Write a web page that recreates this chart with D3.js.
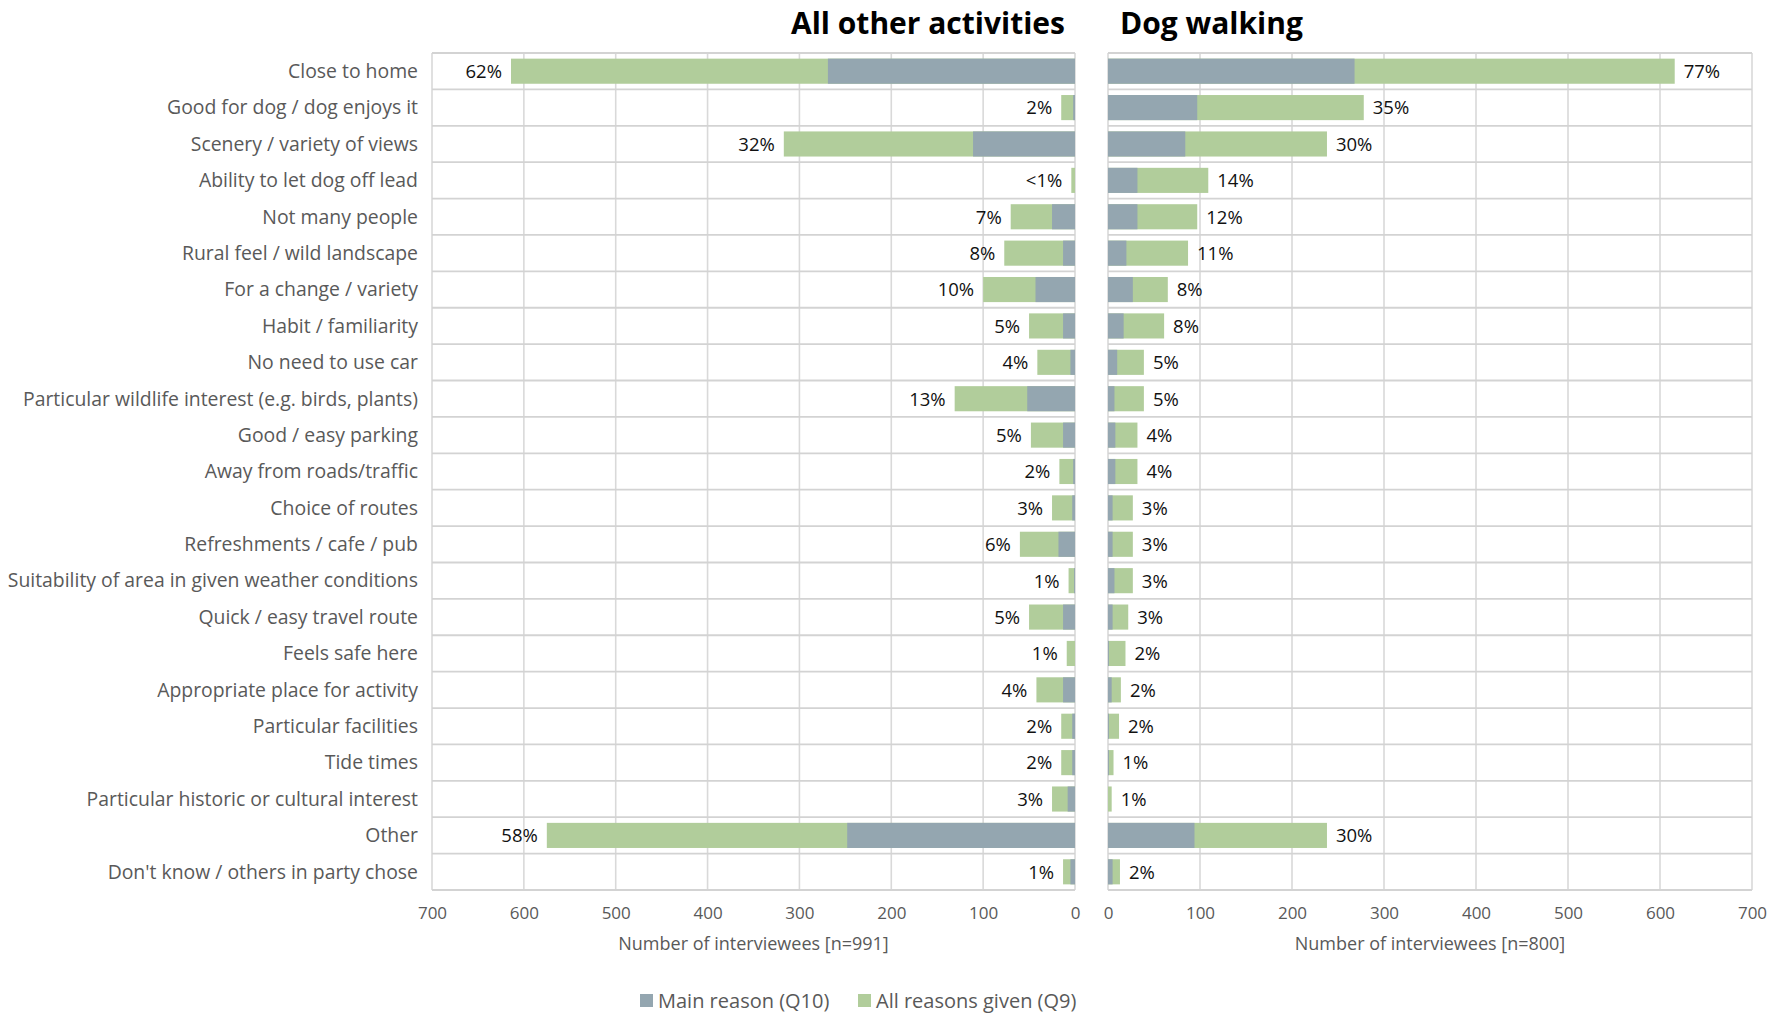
<!DOCTYPE html>
<html>
<head>
<meta charset="utf-8">
<script src="https://cdn.jsdelivr.net/npm/d3@7"></script>
<style>
  html, body { margin: 0; padding: 0; background: #fff; }
  svg { display: block; }
  text { font-family: "Open Sans", "Noto Sans", sans-serif; }
</style>
</head>
<body>
<svg id="chart" width="1777" height="1014"></svg>
<script>
const categories = [
  "Close to home",
  "Good for dog / dog enjoys it",
  "Scenery / variety of views",
  "Ability to let dog off lead",
  "Not many people",
  "Rural feel / wild landscape",
  "For a change / variety",
  "Habit / familiarity",
  "No need to use car",
  "Particular wildlife interest (e.g. birds, plants)",
  "Good / easy parking",
  "Away from roads/traffic",
  "Choice of routes",
  "Refreshments / cafe / pub",
  "Suitability of area in given weather conditions",
  "Quick / easy travel route",
  "Feels safe here",
  "Appropriate place for activity",
  "Particular facilities",
  "Tide times",
  "Particular historic or cultural interest",
  "Other",
  "Don't know / others in party chose"
];

// All other activities (n=991)
const otherMain = [269, 2, 111, 0, 25, 13, 43, 13, 5, 52, 13, 2, 3, 18, 1, 13, 0, 13, 3, 3, 8, 248, 5];
const otherAll  = [614, 15, 317, 4, 70, 77, 100, 50, 41, 131, 48, 17, 25, 60, 7, 50, 9, 42, 15, 15, 25, 575, 13];
const otherPct  = ["62%","2%","32%","<1%","7%","8%","10%","5%","4%","13%","5%","2%","3%","6%","1%","5%","1%","4%","2%","2%","3%","58%","1%"];

// Dog walking (n=800)
const dogMain = [268, 97, 84, 32, 32, 20, 27, 17, 10, 7, 8, 8, 5, 5, 7, 5, 1, 4, 1, 1, 0, 94, 5];
const dogAll  = [616, 278, 238, 109, 97, 87, 65, 61, 39, 39, 32, 32, 27, 27, 27, 22, 19, 14, 12, 6, 4, 238, 13];
const dogPct  = ["77%","35%","30%","14%","12%","11%","8%","8%","5%","5%","4%","4%","3%","3%","3%","3%","2%","2%","2%","1%","1%","30%","2%"];

const xTicks = [0, 100, 200, 300, 400, 500, 600, 700];
const panelTitles = ["All other activities", "Dog walking"];
const axisTitles = ["Number of interviewees [n=991]", "Number of interviewees [n=800]"];
const seriesNames = ["Main reason (Q10)", "All reasons given (Q9)"];

const colMain = "#94a6b0";
const colAll = "#b1cd9b";
const gridCol = "#d9d9d9";
const textCol = "#595959";

const svg = d3.select("#chart");
const plotTop = 53, plotBottom = 890;

const y = d3.scaleBand().domain(categories).range([plotTop, plotBottom]).paddingInner(0.31).paddingOuter(0.155);

const xL = d3.scaleLinear().domain([0, 700]).range([1075, 432]);
const xR = d3.scaleLinear().domain([0, 700]).range([1108, 1752]);

function panel(x, main, all, pct, side) {
  const g = svg.append("g");
  const [r0, r1] = x.range();
  const xmin = Math.min(r0, r1), xmax = Math.max(r0, r1);
  g.selectAll("line.v").data(xTicks).join("line")
    .attr("x1", d => x(d)).attr("x2", d => x(d))
    .attr("y1", plotTop).attr("y2", plotBottom)
    .attr("stroke", gridCol).attr("stroke-width", 1.6);
  const step = y.step();
  const rows = d3.range(categories.length + 1);
  g.selectAll("line.h").data(rows).join("line")
    .attr("x1", xmin).attr("x2", xmax)
    .attr("y1", d => plotTop + d * step).attr("y2", d => plotTop + d * step)
    .attr("stroke", "#d3d3d3").attr("stroke-width", 1.8);
  g.selectAll("rect.all").data(categories).join("rect")
    .attr("x", (c, i) => Math.min(x(0), x(all[i])))
    .attr("width", (c, i) => Math.abs(x(all[i]) - x(0)))
    .attr("y", c => y(c)).attr("height", y.bandwidth())
    .attr("fill", colAll);
  g.selectAll("rect.main").data(categories).join("rect")
    .attr("x", (c, i) => Math.min(x(0), x(main[i])))
    .attr("width", (c, i) => Math.abs(x(main[i]) - x(0)))
    .attr("y", c => y(c)).attr("height", y.bandwidth())
    .attr("fill", colMain);
  g.selectAll("text.lbl").data(categories).join("text")
    .attr("x", (c, i) => x(all[i]) + (side === "left" ? -9 : 9))
    .attr("y", c => y(c) + y.bandwidth() / 2)
    .attr("dy", "0.37em")
    .attr("text-anchor", side === "left" ? "end" : "start")
    .attr("font-size", 18.5).attr("fill", "#111")
    .text((c, i) => pct[i]);
  const axis = d3.axisBottom(x).tickValues(xTicks).tickSize(0).tickPadding(0);
  const ag = g.append("g").attr("transform", `translate(0, ${plotBottom})`).call(axis);
  ag.select(".domain").remove();
  ag.selectAll("text").attr("y", 23).attr("dy", "0.35em").attr("font-size", 17).attr("fill", textCol)
    .style("font-family", '"Open Sans", sans-serif');
}

panel(xL, otherMain, otherAll, otherPct, "left");
panel(xR, dogMain, dogAll, dogPct, "right");

svg.append("g").selectAll("text").data(categories).join("text")
  .attr("x", 418).attr("y", c => y(c) + y.bandwidth() / 2).attr("dy", "0.35em")
  .attr("text-anchor", "end").attr("font-size", 19.4).attr("fill", textCol)
  .text(c => c);

svg.append("text").attr("x", 1065).attr("y", 34).attr("text-anchor", "end")
  .attr("font-size", 30).attr("font-weight", 700).attr("fill", "#000").text(panelTitles[0]);
svg.append("text").attr("x", 1120).attr("y", 34).attr("text-anchor", "start")
  .attr("font-size", 30).attr("font-weight", 700).attr("fill", "#000").text(panelTitles[1]);

svg.append("text").attr("x", (xL(0) + xL(700)) / 2).attr("y", 944).attr("dy", "0.35em")
  .attr("text-anchor", "middle").attr("font-size", 18).attr("fill", textCol).text(axisTitles[0]);
svg.append("text").attr("x", (xR(0) + xR(700)) / 2).attr("y", 944).attr("dy", "0.35em")
  .attr("text-anchor", "middle").attr("font-size", 18).attr("fill", textCol).text(axisTitles[1]);

const legend = svg.append("g");
const legItems = [
  { name: seriesNames[0], color: colMain, x: 640 },
  { name: seriesNames[1], color: colAll, x: 858 }
];
legItems.forEach(it => {
  legend.append("rect").attr("x", it.x).attr("y", 994).attr("width", 13).attr("height", 13).attr("fill", it.color);
  legend.append("text").attr("x", it.x + 18).attr("y", 1001).attr("dy", "0.35em")
    .attr("font-size", 20).attr("fill", textCol).text(it.name);
});
</script>
</body>
</html>
